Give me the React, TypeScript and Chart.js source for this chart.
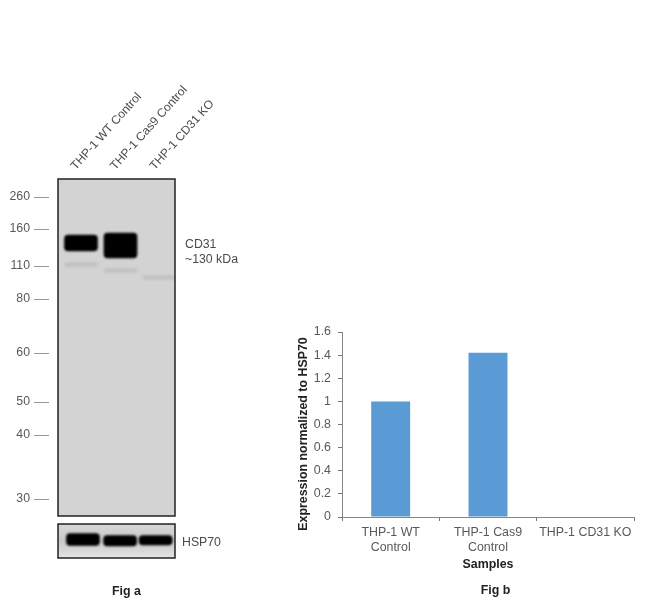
import React, { useEffect, useRef } from "react";
import { Chart, registerables } from "chart.js";

Chart.register(...registerables);

// Fig b
const samples = [["THP-1 WT", "Control"], ["THP-1 Cas9", "Control"], ["THP-1 CD31 KO"]];
const expression = [1, 1.42, 0];

// Fig a
const laneLabels = ["THP-1 WT Control", "THP-1 Cas9 Control", "THP-1 CD31 KO"];
const ladderKda = [260, 160, 110, 80, 60, 50, 40, 30];
const ladderMigration = [18, 50, 87, 120, 174, 223, 256, 320];
const cd31Lanes = [1, 2];
const cd31Bands = [[56, 72], [54, 79]];
const faintLanes = [1, 2, 2.98];
const faintBands = [[84, 87], [90, 93], [97, 100]];
const hspLanes = [1.05, 1.99, 2.89];
const hspBands = [[9.5, 21.5], [11.5, 22], [11.5, 21]];

const FONT = "'Liberation Sans', Arial, sans-serif";
const W = 650;
const H = 606;

const blotPlugin = (bg: string | ((c: CanvasRenderingContext2D, a: any) => CanvasGradient)) => ({
  id: "blot",
  beforeDatasetsDraw(chart: any) {
    const { ctx, chartArea: a } = chart;
    ctx.save();
    ctx.fillStyle = typeof bg === "string" ? bg : bg(ctx, a);
    ctx.fillRect(a.left, a.top, a.right - a.left, a.bottom - a.top);
    ctx.restore();
  },
  beforeDatasetDraw(chart: any, args: any) {
    chart.ctx.save();
    chart.ctx.filter = `blur(${chart.data.datasets[args.index].blur}px)`;
  },
  afterDatasetDraw(chart: any) {
    chart.ctx.restore();
  },
  afterDraw(chart: any) {
    const { ctx, chartArea: a } = chart;
    ctx.save();
    ctx.strokeStyle = "#222";
    ctx.lineWidth = 1.5;
    ctx.strokeRect(a.left, a.top, a.right - a.left, a.bottom - a.top);
    ctx.restore();
  },
});

const dashPlugin = {
  id: "dashes",
  afterDraw(chart: any) {
    const { ctx, scales } = chart;
    ctx.save();
    ctx.strokeStyle = "#999";
    ctx.lineWidth = 1;
    ladderMigration.forEach((m) => {
      const y = Math.round(scales.y.getPixelForValue(m)) + 0.5;
      ctx.beginPath();
      ctx.moveTo(chart.chartArea.left - 24, y);
      ctx.lineTo(chart.chartArea.left - 9, y);
      ctx.stroke();
    });
    ctx.restore();
  },
};

const notes = (items: [string, number, number, string, string, number?][]) => ({
  id: "notes",
  afterDraw(chart: any) {
    const { ctx } = chart;
    items.forEach(([t, x, y, font, align, rot]) => {
      ctx.save();
      ctx.textBaseline = "middle";
      ctx.font = font;
      ctx.textAlign = align;
      ctx.fillStyle = font.startsWith("bold") ? "#222" : "#4a4a4a";
      ctx.translate(x, y);
      if (rot) ctx.rotate(rot);
      ctx.fillText(t, 0, 0);
      ctx.restore();
    });
  },
});

const laneX = { type: "linear", min: 0.418, max: 3.38, offset: false };

function makeBars(canvas: HTMLCanvasElement) {
  return new Chart(canvas, {
    type: "bar",
    data: {
      labels: samples as any,
      datasets: [{ data: expression, backgroundColor: "#5B9BD5", barPercentage: 0.4, categoryPercentage: 1 }],
    },
    options: {
      animation: false,
      responsive: false,
      layout: { padding: { left: 292, right: 16, top: 332, bottom: 30 } },
      plugins: { legend: { display: false }, tooltip: { enabled: false } },
      scales: {
        x: {
          grid: { drawOnChartArea: false, offset: true, color: "#777", tickLength: 4 },
          border: { color: "#868686" },
          ticks: { color: "#595959", font: { family: FONT, size: 12.4 }, maxRotation: 0, padding: 4, autoSkip: false },
          title: { display: true, text: "Samples", color: "#222", font: { family: FONT, size: 12.4, weight: "bold" }, padding: { top: 4, bottom: 4 } },
          afterFit: (s: any) => { s.height = 59; },
        },
        y: {
          min: 0,
          max: 1.6,
          grid: { drawOnChartArea: false, color: "#777", tickLength: 4 },
          border: { color: "#868686" },
          ticks: { stepSize: 0.2, color: "#595959", font: { family: FONT, size: 12.4 }, padding: 7, callback: (v: any) => String(Math.round(v * 10) / 10) },
          afterFit: (s: any) => { s.width = 50; },
        },
      },
    },
    plugins: [
      notes([
        ["Fig b", 495.5, 591, `bold 12.4px ${FONT}`, "center"],
        ["Expression normalized to HSP70", 303.5, 434, `bold 12.4px ${FONT}`, "center", -Math.PI / 2],
      ]),
    ],
  } as any);
}

function makeCd31(canvas: HTMLCanvasElement) {
  return new Chart(canvas, {
    type: "bar",
    data: {
      datasets: [
        {
          data: cd31Lanes.map((x, i) => ({ x, y: cd31Bands[i] })),
          backgroundColor: "#000",
          barThickness: 33,
          borderRadius: 4,
          borderSkipped: false,
          grouped: false,
          blur: 1.3,
        },
        {
          data: faintLanes.map((x, i) => ({ x, y: faintBands[i] })),
          backgroundColor: "#bcbcbc",
          barThickness: 32,
          grouped: false,
          blur: 1.5,
        },
      ],
    },
    options: {
      animation: false,
      responsive: false,
      layout: { padding: { left: 0, right: 475, top: 0, bottom: 90 } },
      plugins: { legend: { display: false }, tooltip: { enabled: false } },
      scales: {
        x: {
          ...laneX,
          position: "top",
          grid: { display: false },
          border: { display: false },
          afterBuildTicks: (s: any) => { s.ticks = [1, 2, 3].map((value) => ({ value })); },
          ticks: {
            autoSkip: false,
            minRotation: 48,
            maxRotation: 48,
            labelOffset: 3,
            padding: -2,
            color: "#4a4a4a",
            font: { family: FONT, size: 12 },
            callback: (v: any) => laneLabels[v - 1],
          },
          afterFit: (s: any) => { s.height = 179; },
        },
        y: {
          min: 0,
          max: 337,
          reverse: true,
          grid: { display: false },
          border: { display: false },
          afterBuildTicks: (s: any) => { s.ticks = ladderMigration.map((value) => ({ value })); },
          ticks: {
            autoSkip: false,
            padding: 20,
            color: "#595959",
            font: { family: FONT, size: 12.3 },
            callback: (v: any) => String(ladderKda[ladderMigration.indexOf(v)]),
          },
          afterFit: (s: any) => { s.width = 58; },
        },
      },
    },
    plugins: [
      blotPlugin("#d3d3d3"),
      dashPlugin,
      notes([
        ["CD31", 185, 245, `12.3px ${FONT}`, "left"],
        ["~130 kDa", 185, 260, `12.3px ${FONT}`, "left"],
      ]),
    ],
  } as any);
}

function makeHsp(canvas: HTMLCanvasElement) {
  return new Chart(canvas, {
    type: "bar",
    data: {
      datasets: [
        {
          data: hspLanes.map((x, i) => ({ x, y: hspBands[i] })),
          backgroundColor: "#000",
          barThickness: 33,
          borderRadius: 4,
          borderSkipped: false,
          blur: 1.2,
        },
      ],
    },
    options: {
      animation: false,
      responsive: false,
      layout: { padding: { left: 58, right: 475, top: 524, bottom: 48 } },
      plugins: { legend: { display: false }, tooltip: { enabled: false } },
      scales: {
        x: { ...laneX, display: false },
        y: { min: 0, max: 34, reverse: true, display: false },
      },
    },
    plugins: [
      blotPlugin((c, a) => {
        const g = c.createLinearGradient(0, a.top, 0, a.bottom);
        g.addColorStop(0, "#d8d8d8");
        g.addColorStop(0.5, "#c8c8c8");
        g.addColorStop(1, "#e4e4e4");
        return g;
      }),
      notes([
        ["HSP70", 182, 543, `12.3px ${FONT}`, "left"],
        ["Fig a", 126.5, 591.5, `bold 12.4px ${FONT}`, "center"],
      ]),
    ],
  } as any);
}

const layer: React.CSSProperties = { position: "absolute", left: 0, top: 0 };

export default function App() {
  const a = useRef<HTMLCanvasElement>(null);
  const b = useRef<HTMLCanvasElement>(null);
  const c = useRef<HTMLCanvasElement>(null);
  useEffect(() => {
    const charts = [makeCd31(a.current!), makeHsp(b.current!), makeBars(c.current!)];
    return () => charts.forEach((x) => x.destroy());
  }, []);
  return (
    <div style={{ position: "absolute", left: 0, top: 0, width: W, height: H, background: "#fff" }}>
      <canvas ref={a} width={W} height={H} style={layer} />
      <canvas ref={b} width={W} height={H} style={layer} />
      <canvas ref={c} width={W} height={H} style={layer} />
    </div>
  );
}
